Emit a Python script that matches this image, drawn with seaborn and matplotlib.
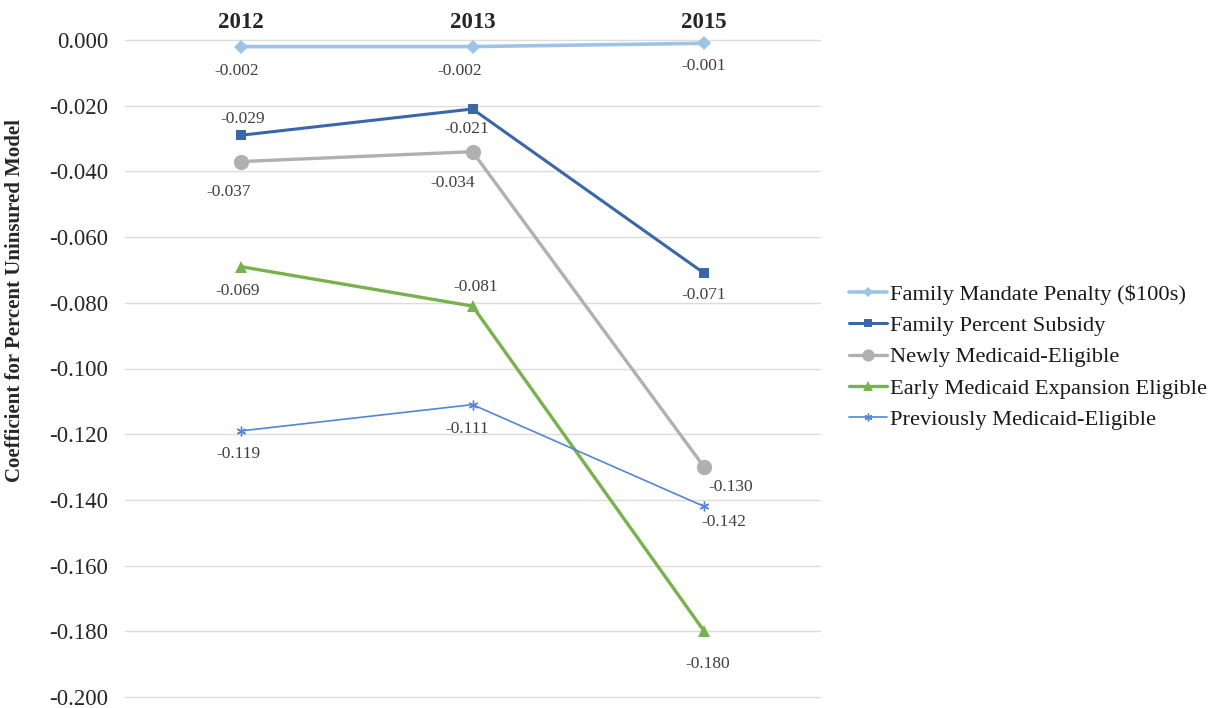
import pandas as pd
import matplotlib
matplotlib.use('Agg')
import matplotlib.pyplot as plt
import seaborn as sns

# data
years = ['2012', '2013', '2015']
penalty = [-0.002, -0.002, -0.001]
subsidy = [-0.029, -0.021, -0.071]
newly = [-0.037, -0.034, -0.130]
early = [-0.069, -0.081, -0.180]
previously = [-0.119, -0.111, -0.142]
series_names = ['Family Mandate Penalty ($100s)', 'Family Percent Subsidy',
                'Newly Medicaid-Eligible', 'Early Medicaid Expansion Eligible',
                'Previously Medicaid-Eligible']
y_ticks = [0.0, -0.02, -0.04, -0.06, -0.08, -0.10, -0.12, -0.14, -0.16, -0.18, -0.20]

# styles per series
colors = ['#9DC3E6', '#3A67A8', '#B0B0B0', '#78B24F', '#5585D6']
markers = ['D', 's', 'o', '^', (6, 2, 0)]
msizes = [7, 7, 11, 9, 7]
lwidths = [2.6, 2.2, 2.4, 2.4, 1.2]
# label offsets (pixels) for each point
offsets = [
    [(-4, -24), (-13, -24), (0, -23)],
    [(2, 16), (-6, -20), (0, -22)],
    [(-12, -30), (-20, -31), (27, -20)],
    [(-3, -24), (3, 19), (4, -33)],
    [(-2, -23), (-5, -24), (20, -16)],
]

values = [penalty, subsidy, newly, early, previously]
df = pd.concat([pd.DataFrame({'year': years, 'value': v, 'series': n})
                for v, n in zip(values, series_names)], ignore_index=True)

sns.set_style('white')
plt.rcParams['font.family'] = ['Liberation Serif', 'DejaVu Serif']

fig = plt.figure(figsize=(12.25, 7.08), dpi=100)
ax = fig.add_axes([125 / 1225, 1 - 697 / 708, 695 / 1225, 657 / 708])

for i, name in enumerate(series_names):
    sub = df[df['series'] == name]
    sns.lineplot(data=sub, x='year', y='value', ax=ax, color=colors[i],
                 marker=markers[i], markersize=msizes[i], linewidth=lwidths[i],
                 markeredgecolor=colors[i], markeredgewidth=1 if i == 4 else 0,
                 label=name, clip_on=False, zorder=3)
    for j, v in enumerate(sub['value']):
        dx, dy = offsets[i][j]
        ax.annotate(f'{v:.3f}', (j, v), xytext=(dx, dy), textcoords='offset pixels',
                    ha='center', va='center', fontsize=12.5, color='#404040')

ax.set_xlim(-0.5, 2.5)
ax.set_ylim(-0.2, 0.0)
ax.set_yticks(y_ticks)
ax.set_yticklabels([f'{t:.3f}' for t in y_ticks], fontsize=16.5)
ax.xaxis.tick_top()
ax.tick_params(axis='x', length=0, pad=5, labelsize=16.5)
for lab in ax.get_xticklabels():
    lab.set_fontweight('bold')
ax.tick_params(axis='y', length=0, pad=12)
ax.set_xlabel('')
ax.set_ylabel('')
ax.grid(axis='y', color='#DCDCDC', linewidth=1)
ax.grid(axis='x', visible=False)
for gl in ax.get_ygridlines():
    gl.set_clip_on(False)
for s in ax.spines.values():
    s.set_visible(False)

fig.text(15 / 1225, 1 - 300 / 708, 'Coefficient for Percent Uninsured Model',
         rotation=90, ha='center', va='center', fontsize=15, fontweight='bold')

leg = ax.legend(loc='center left', bbox_to_anchor=(840 / 1225, 1 - 357 / 708),
                bbox_transform=fig.transFigure, frameon=False, fontsize=16.2,
                handlelength=1.7, handletextpad=0.1, labelspacing=0.47,
                borderaxespad=0, markerscale=0.8)
for t in leg.get_texts():
    t.set_color('#1a1a1a')

fig.savefig('out.png', dpi=100)
